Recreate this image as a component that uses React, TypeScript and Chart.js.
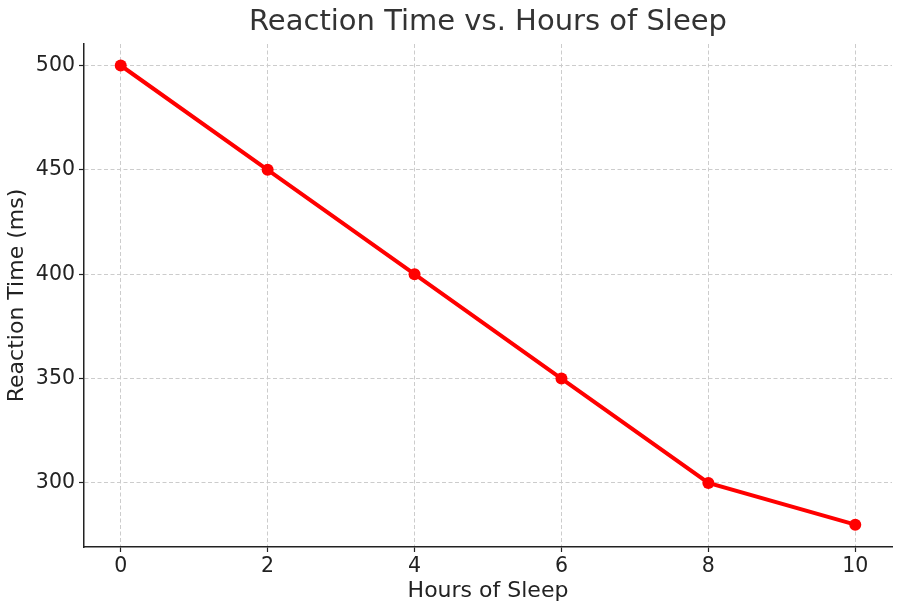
import React, { useEffect, useRef } from "react";
import Chart from "chart.js/auto";

const hours = [0, 2, 4, 6, 8, 10];
const reactionMs = [500, 450, 400, 350, 300, 280];
const xTicks = [0, 2, 4, 6, 8, 10];
const yTicks = [300, 350, 400, 450, 500];

const FONT = "'DejaVu Sans', sans-serif";

const App: React.FC = () => {
  const chartRef = useRef<HTMLCanvasElement | null>(null);

  useEffect(() => {
    document.body.style.margin = "0";
    if (!chartRef.current) return;
    const ctx = chartRef.current.getContext("2d");
    if (!ctx) return;

    const points = hours.map((h, i) => ({ x: h, y: reactionMs[i] }));

    const grid = {
      color: "#cccccc",
      lineWidth: 1,
      tickColor: "#222222",
      tickLength: 5,
      tickWidth: 1.2,
      tickBorderDash: [],
    };

    const chart = new Chart(ctx, {
      type: "line",
      data: {
        datasets: [
          {
            label: "Reaction Time",
            data: points,
            borderColor: "#ff0000",
            backgroundColor: "#ff0000",
            borderWidth: 4,
            pointRadius: 6,
            pointHoverRadius: 6,
            pointBorderWidth: 0,
            fill: false,
            tension: 0,
          },
        ],
      },
      options: {
        animation: false,
        responsive: false,
        devicePixelRatio: 1,
        layout: { padding: { left: 0, right: 5, top: 0, bottom: 0 } },
        plugins: {
          legend: { display: false },
          tooltip: { enabled: false },
          title: {
            display: true,
            text: "Reaction Time vs. Hours of Sleep",
            fullSize: false,
            color: "#333333",
            font: { family: FONT, size: 29, weight: "normal" },
            padding: { top: 5.5, bottom: 3.7 },
          },
        },
        scales: {
          x: {
            type: "linear",
            min: -0.5,
            max: 10.5,
            afterBuildTicks: (scale: any) => {
              scale.ticks = xTicks.map((v) => ({ value: v }));
            },
            afterFit: (scale: any) => {
              scale.height = 59;
            },
            grid,
            border: { display: true, color: "#222222", width: 1.5, dash: [4, 2.5] },
            ticks: {
              color: "#222222",
              font: { family: FONT, size: 20.5 },
              padding: 2,
              maxRotation: 0,
            },
            title: {
              display: true,
              text: "Hours of Sleep",
              color: "#222222",
              font: { family: FONT, size: 22 },
              padding: { top: 0, bottom: 2 },
            },
          },
          y: {
            type: "linear",
            min: 269.3,
            max: 510.3,
            afterBuildTicks: (scale: any) => {
              scale.ticks = yTicks.map((v) => ({ value: v }));
            },
            afterFit: (scale: any) => {
              scale.width = 84;
            },
            grid,
            border: { display: true, color: "#222222", width: 1.5, dash: [4, 2.5] },
            ticks: {
              color: "#222222",
              font: { family: FONT, size: 20.5 },
              padding: 4,
            },
            title: {
              display: true,
              text: "Reaction Time (ms)",
              color: "#222222",
              font: { family: FONT, size: 22 },
              padding: { top: 4, bottom: 0 },
            },
          },
        },
      },
    });

    return () => {
      chart.destroy();
    };
  }, []);

  return <canvas ref={chartRef} width={898} height={606} style={{ display: "block" }} />;
};

export default App;
